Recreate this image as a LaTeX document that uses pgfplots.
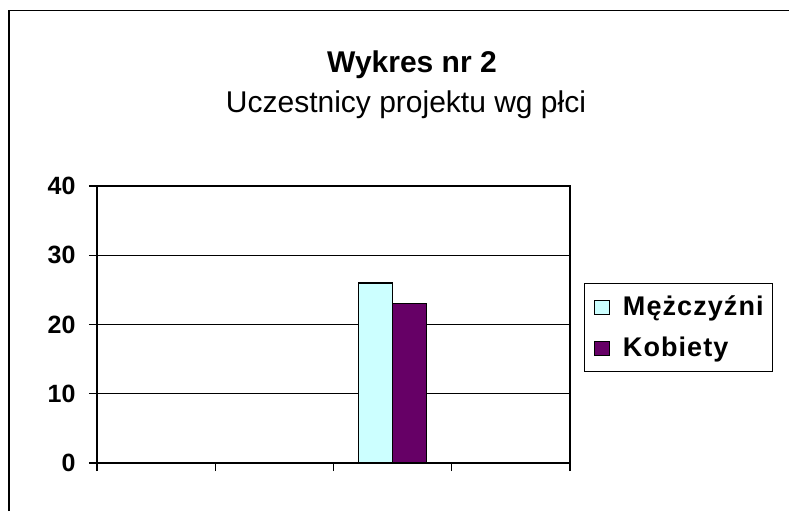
\documentclass[border=0pt]{standalone}
\usepackage{pgfplots}
\pgfplotsset{compat=1.18}
\usepackage{fontspec}
\setmainfont{Liberation Sans}
\newfontfamily\legfont[LetterSpace=4]{Liberation Sans}
\definecolor{men}{HTML}{CCFFFF}
\definecolor{women}{HTML}{660066}

\begin{document}
\begin{tikzpicture}
\useasboundingbox (0pt,0pt) rectangle (789pt,-511pt);
% outer chart frame (only top and left edges are visible)
\draw[line width=1.5pt] (9pt,-511pt) -- (9pt,-10.5pt) -- (789pt,-10.5pt);
\node[anchor=base, font=\fontsize{30}{36}\selectfont\bfseries] at (412pt,-73pt) {Wykres nr 2};
\node[anchor=base, font=\fontsize{30}{36}\selectfont] at (406pt,-112pt) {Uczestnicy projektu wg płci};

\begin{axis}[
    at={(97pt,-463pt)}, anchor=south west,
    scale only axis, width=473pt, height=277pt,
    xmin=0, xmax=4, ymin=0, ymax=40,
    xtick={0,1,2,3,4}, xticklabels={},
    ytick={0,10,20,30,40},
    tick align=outside, xtick pos=left, ytick pos=left,
    major tick length=8pt,
    tick style={black, line width=1.3pt},
    axis line style={line width=1.3pt},
    ymajorgrids, grid style={black, line width=1.3pt},
    ybar=0pt, bar width=34pt,
    yticklabel style={font=\fontsize{25}{25}\selectfont\bfseries, xshift=-10pt},
    /pgf/number format/assume math mode=true,
    legend style={at={(1.0296,0.6498)}, anchor=north west, draw=black,
        line width=1.3pt, legend cell align=left,
        inner xsep=9pt, inner ysep=11pt, row sep=16pt, column sep=13pt,
        nodes={inner sep=0pt, text height=21pt, text depth=4pt},
        font=\legfont\bfseries\fontsize{27}{27}\selectfont},
    legend image code/.code={\draw[#1] (0pt,-7pt) rectangle (15pt,7pt);},
]
\addplot[fill=men, draw=black, line width=1.3pt] coordinates {(2.5,26)};
\addplot[fill=women, draw=black, line width=1.3pt] coordinates {(2.5,23)};
\legend{Mężczyźni, Kobiety}
\end{axis}
\end{tikzpicture}
\end{document}
